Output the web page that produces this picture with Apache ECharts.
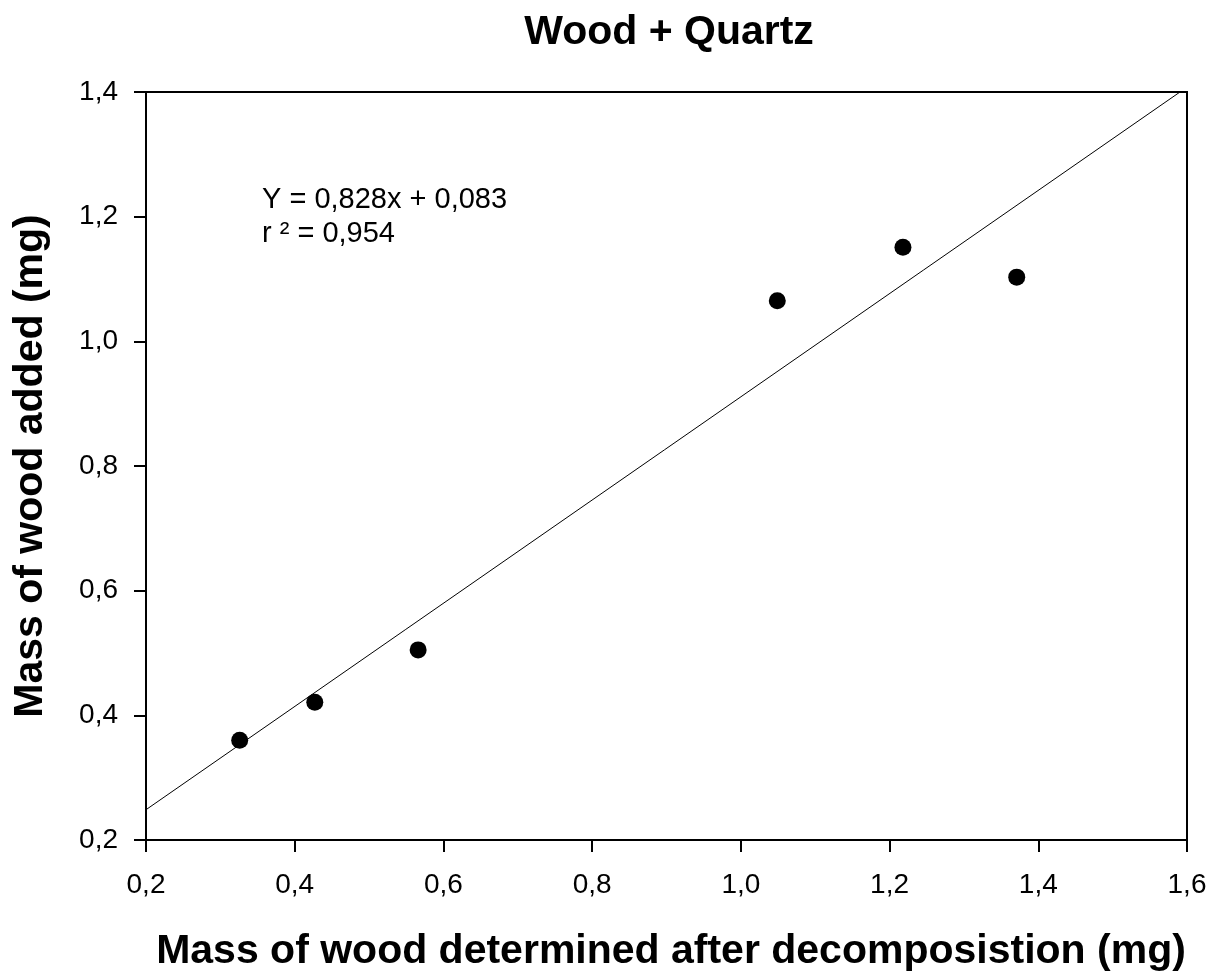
<!DOCTYPE html>
<html>
<head>
<meta charset="utf-8">
<script src="https://cdn.jsdelivr.net/npm/echarts@6/dist/echarts.min.js"></script>
<style>
  html, body { margin: 0; padding: 0; background: #fff; }
  #chart { width: 1215px; height: 972px; }
</style>
</head>
<body>
<div id="chart"></div>
<script>
// Measured masses (mg)
const massDetermined = [0.326, 0.427, 0.566, 1.049, 1.218, 1.371];
const massAdded      = [0.360, 0.421, 0.505, 1.065, 1.151, 1.103];

// Linear fit reported on the chart
const fitSlope = 0.828;
const fitIntercept = 0.083;
const fitR2 = 0.954;

// Axis ranges / ticks
const xRange = [0.2, 1.6];
const yRange = [0.2, 1.4];
const tickStep = 0.2;

const comma = v => v.toFixed(1).replace('.', ',');
const commaN = (v, d) => v.toFixed(d).replace('.', ',');

const points = massDetermined.map((x, i) => [x, massAdded[i]]);
const fitLine = xRange.map(x => [x, fitSlope * x + fitIntercept]);

const chart = echarts.init(document.getElementById('chart'), null, { renderer: 'canvas' });

const font = 'Arial, "Liberation Sans", sans-serif';
const boldName = { fontFamily: font, fontWeight: 'bold', fontSize: 41, color: '#000' };
const tickLabel = { fontFamily: font, fontSize: 28, color: '#000', formatter: comma };
const axisStroke = { color: '#000', width: 2 };

chart.setOption({
  backgroundColor: '#fff',
  animation: false,
  title: {
    text: 'Wood + Quartz',
    left: 664,
    textAlign: 'center',
    top: 7,
    textStyle: boldName
  },
  grid: {
    left: 146, right: 28, top: 92, bottom: 132,
    outerBoundsMode: 'none',
    containLabel: false,
    show: true, borderColor: '#000', borderWidth: 2, backgroundColor: 'transparent'
  },
  xAxis: {
    type: 'value',
    min: xRange[0], max: xRange[1], interval: tickStep,
    name: 'Mass of wood determined after decomposistion (mg)',
    nameLocation: 'middle',
    nameGap: 91,
    nameTextStyle: Object.assign({}, boldName, { padding: [0, 0, 0, 9] }),
    axisLine: { show: true, lineStyle: axisStroke },
    axisTick: { show: true, inside: false, length: 12, lineStyle: axisStroke },
    axisLabel: Object.assign({ margin: 31 }, tickLabel),
    splitLine: { show: false }
  },
  yAxis: {
    type: 'value',
    min: yRange[0], max: yRange[1], interval: tickStep,
    name: 'Mass of wood added (mg)',
    nameLocation: 'middle',
    nameGap: 95,
    nameTextStyle: boldName,
    axisLine: { show: true, lineStyle: axisStroke },
    axisTick: { show: true, inside: false, length: 12, lineStyle: axisStroke },
    axisLabel: Object.assign({ margin: 28 }, tickLabel),
    splitLine: { show: false }
  },
  graphic: [
    {
      type: 'text',
      left: 262, top: 183,
      style: {
        text: 'Y = ' + commaN(fitSlope, 3) + 'x + ' + commaN(fitIntercept, 3) + '\nr ² = ' + commaN(fitR2, 3),
        font: '29px ' + font,
        fill: '#000',
        lineHeight: 34
      }
    }
  ],
  series: [
    {
      type: 'line',
      data: fitLine,
      symbol: 'none',
      clip: true,
      lineStyle: { color: '#000', width: 1 },
      z: 2
    },
    {
      type: 'scatter',
      data: points,
      symbol: 'circle',
      symbolSize: 17,
      itemStyle: { color: '#000', opacity: 1 },
      z: 3
    }
  ]
});
</script>
</body>
</html>
